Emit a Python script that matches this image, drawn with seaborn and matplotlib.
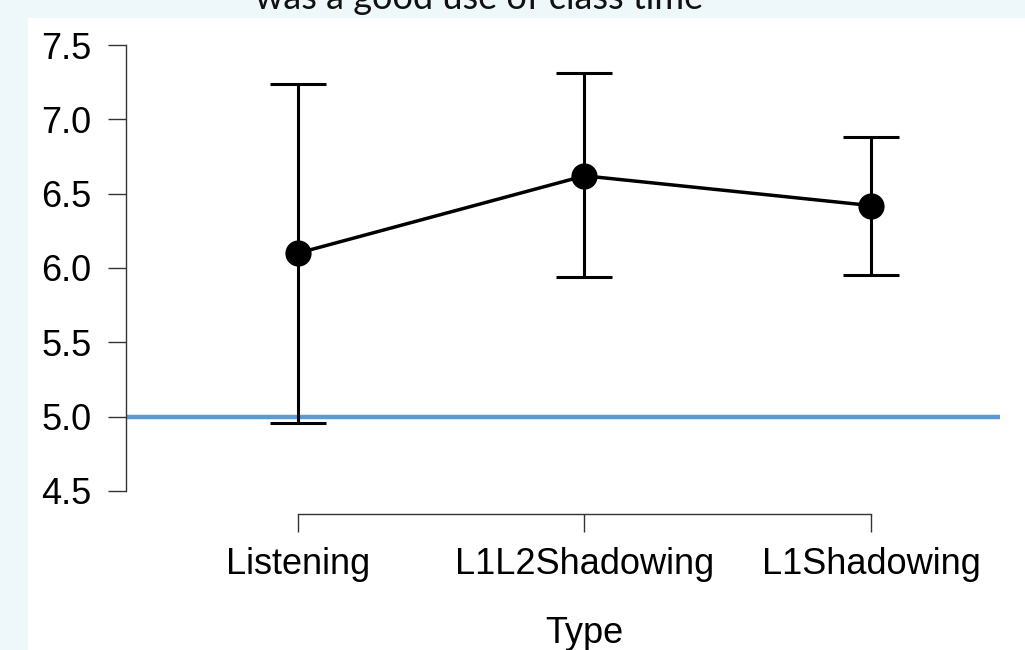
import numpy as np
import matplotlib
matplotlib.use("Agg")
import matplotlib.pyplot as plt
import seaborn as sns
from matplotlib.patches import Rectangle

# ── Datos ─────────────────────────────────────────────────────
tipos = ["Listening", "L1L2Shadowing", "L1Shadowing"]
medias = np.array([6.10, 6.62, 6.42])
ic_inf = np.array([4.96, 5.94, 5.95])
ic_sup = np.array([7.24, 7.31, 6.88])
referencia = 5.0
yticks = [4.5, 5.0, 5.5, 6.0, 6.5, 7.0, 7.5]
titulo = "was a good use of class time"

sns.set_style("ticks")
plt.rcParams["font.family"] = ["Liberation Sans", "DejaVu Sans"]
plt.rcParams["text.color"] = "black"
plt.rcParams["axes.labelcolor"] = "black"
plt.rcParams["xtick.labelcolor"] = "black"
plt.rcParams["ytick.labelcolor"] = "black"

fig = plt.figure(figsize=(10.25, 6.5), dpi=100, facecolor="#eef8fb")
fig.patches.append(Rectangle((28 / 1025, 0), 1, 1 - 18 / 650,
                             transform=fig.transFigure, facecolor="white",
                             edgecolor="none", zorder=-1))
fig.text(479 / 1025, 1 - 9 / 650, titulo, ha="center", va="baseline",
         fontsize=26, family=["Lato", "DejaVu Sans"], color="#111111")

ax = fig.add_axes([126 / 1025, 1 - 514 / 650, 874 / 1025, (514 - 37.6) / 650])
ax.set_facecolor("none")

# ── Línea de referencia ───────────────────────────────────────
ax.axhline(referencia, color="#5b9bd5", lw=3.2, zorder=1)

# ── Medias e intervalos ───────────────────────────────────────
sns.pointplot(x=tipos, y=medias, color="black", errorbar=None,
              markersize=17, linewidth=2.5, ax=ax, zorder=3)
ax.errorbar(np.arange(len(tipos)), medias,
            yerr=[medias - ic_inf, ic_sup - medias], fmt="none",
            ecolor="black", elinewidth=2.2, capsize=20, capthick=2.2, zorder=2)

ax.set_xlim(-0.600, 2.450)
ax.set_ylim(4.345, 7.55)
ax.set_yticks(yticks)
ax.set_yticklabels([f"{v:.1f}" for v in yticks])

for s in ["top", "right"]:
    ax.spines[s].set_visible(False)
ax.spines["left"].set_bounds(4.5, 7.5)
ax.spines["bottom"].set_bounds(0, 2)
for s in ["left", "bottom"]:
    ax.spines[s].set_color("#333333")
    ax.spines[s].set_linewidth(1.0)

ax.tick_params(axis="both", direction="out", length=13, width=1.0,
               color="#333333", labelsize=26, pad=12)
ax.tick_params(axis="x", pad=11)
ax.set_ylabel("")
ax.set_xlabel("Type", fontsize=26)
ax.xaxis.set_label_coords((584 - 126) / 874, -0.214)

fig.savefig("out.png", dpi=100, facecolor=fig.get_facecolor())
